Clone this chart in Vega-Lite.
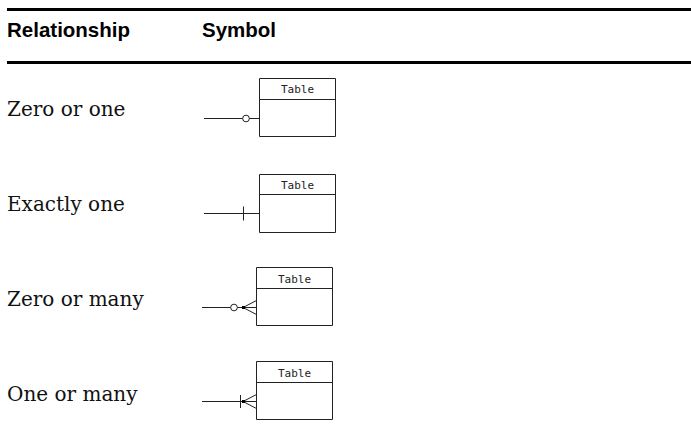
{
  "$schema": "https://vega.github.io/schema/vega-lite/v6.json",
  "width": 691,
  "height": 440,
  "autosize": {"type": "none"},
  "padding": 0,
  "background": "white",
  "config": {"view": {"stroke": null}, "axis": {"disable": true}},
  "datasets": {
    "thick": [
      {"x": 7, "x2": 691, "y": 9.5},
      {"x": 7, "x2": 691, "y": 62.5}
    ],
    "boxes": [
      {"row": "Zero or one", "x": 259.5, "x2": 335.5, "y": 78.5, "y2": 136.5},
      {"row": "Exactly one", "x": 259.5, "x2": 335.5, "y": 174.5, "y2": 232.5},
      {"row": "Zero or many", "x": 256.5, "x2": 332.5, "y": 267.5, "y2": 325.5},
      {"row": "One or many", "x": 256.5, "x2": 332.5, "y": 361.5, "y2": 419.5}
    ],
    "segments": [
      {"x": 259.5, "y": 99.5, "x2": 335.5, "y2": 99.5},
      {"x": 259.5, "y": 194.5, "x2": 335.5, "y2": 194.5},
      {"x": 256.5, "y": 288.5, "x2": 332.5, "y2": 288.5},
      {"x": 256.5, "y": 382.5, "x2": 332.5, "y2": 382.5},
      {"x": 204, "y": 118.5, "x2": 259.5, "y2": 118.5},
      {"x": 204, "y": 213.5, "x2": 259.5, "y2": 213.5},
      {"x": 243.5, "y": 206.5, "x2": 243.5, "y2": 220.5},
      {"x": 202, "y": 307.5, "x2": 256.5, "y2": 307.5},
      {"x": 243, "y": 307.5, "x2": 256.5, "y2": 300.5},
      {"x": 243, "y": 307.5, "x2": 256.5, "y2": 314.5},
      {"x": 202, "y": 401.5, "x2": 256.5, "y2": 401.5},
      {"x": 240.5, "y": 395, "x2": 240.5, "y2": 408},
      {"x": 243, "y": 401.5, "x2": 256.5, "y2": 394.5},
      {"x": 243, "y": 401.5, "x2": 256.5, "y2": 408.5}
    ],
    "circles": [
      {"x": 246, "y": 118.5},
      {"x": 234, "y": 307.5}
    ],
    "squares": [
      {"x": 243.5, "y": 307.5},
      {"x": 243.5, "y": 401.5}
    ],
    "headers": [
      {"label": "Relationship", "x": 7, "y": 37},
      {"label": "Symbol", "x": 202, "y": 37}
    ],
    "rows": [
      {"label": "Zero or one", "x": 7, "y": 116},
      {"label": "Exactly one", "x": 7, "y": 211},
      {"label": "Zero or many", "x": 7, "y": 306},
      {"label": "One or many", "x": 7, "y": 401}
    ],
    "tables": [
      {"label": "Table", "x": 297.5, "y": 93},
      {"label": "Table", "x": 297.5, "y": 189},
      {"label": "Table", "x": 294.5, "y": 283},
      {"label": "Table", "x": 294.5, "y": 377}
    ]
  },
  "layer": [
    {
      "data": {"name": "thick"},
      "mark": {"type": "rule", "color": "black", "strokeWidth": 3},
      "encoding": {
        "x": {"field": "x", "type": "quantitative", "scale": {"domain": [0, 691], "range": [0, 691], "nice": false, "zero": false}},
        "x2": {"field": "x2"},
        "y": {"field": "y", "type": "quantitative", "scale": {"domain": [0, 440], "range": [0, 440], "nice": false, "zero": false}}
      }
    },
    {
      "data": {"name": "boxes"},
      "mark": {"type": "rect", "fill": "white", "stroke": "#222222", "strokeWidth": 1},
      "encoding": {
        "x": {"field": "x", "type": "quantitative"},
        "x2": {"field": "x2"},
        "y": {"field": "y", "type": "quantitative"},
        "y2": {"field": "y2"}
      }
    },
    {
      "data": {"name": "segments"},
      "mark": {"type": "rule", "color": "#222222", "strokeWidth": 1},
      "encoding": {
        "x": {"field": "x", "type": "quantitative"},
        "x2": {"field": "x2"},
        "y": {"field": "y", "type": "quantitative"},
        "y2": {"field": "y2"}
      }
    },
    {
      "data": {"name": "circles"},
      "mark": {"type": "point", "shape": "circle", "filled": false, "fill": "white", "fillOpacity": 1, "stroke": "#222222", "strokeWidth": 1, "size": 45, "opacity": 1},
      "encoding": {
        "x": {"field": "x", "type": "quantitative"},
        "y": {"field": "y", "type": "quantitative"}
      }
    },
    {
      "data": {"name": "squares"},
      "mark": {"type": "point", "shape": "square", "filled": true, "color": "black", "size": 9, "opacity": 1},
      "encoding": {
        "x": {"field": "x", "type": "quantitative"},
        "y": {"field": "y", "type": "quantitative"}
      }
    },
    {
      "data": {"name": "headers"},
      "mark": {"type": "text", "font": "Liberation Sans", "fontWeight": "bold", "fontSize": 20.5, "align": "left", "baseline": "alphabetic", "color": "black"},
      "encoding": {
        "x": {"field": "x", "type": "quantitative"},
        "y": {"field": "y", "type": "quantitative"},
        "text": {"field": "label"}
      }
    },
    {
      "data": {"name": "rows"},
      "mark": {"type": "text", "font": "DejaVu Serif", "fontSize": 20, "align": "left", "baseline": "alphabetic", "color": "#111111"},
      "encoding": {
        "x": {"field": "x", "type": "quantitative"},
        "y": {"field": "y", "type": "quantitative"},
        "text": {"field": "label"}
      }
    },
    {
      "data": {"name": "tables"},
      "mark": {"type": "text", "font": "DejaVu Sans Mono", "fontSize": 11, "align": "center", "baseline": "alphabetic", "color": "#222222"},
      "encoding": {
        "x": {"field": "x", "type": "quantitative"},
        "y": {"field": "y", "type": "quantitative"},
        "text": {"field": "label"}
      }
    }
  ]
}
